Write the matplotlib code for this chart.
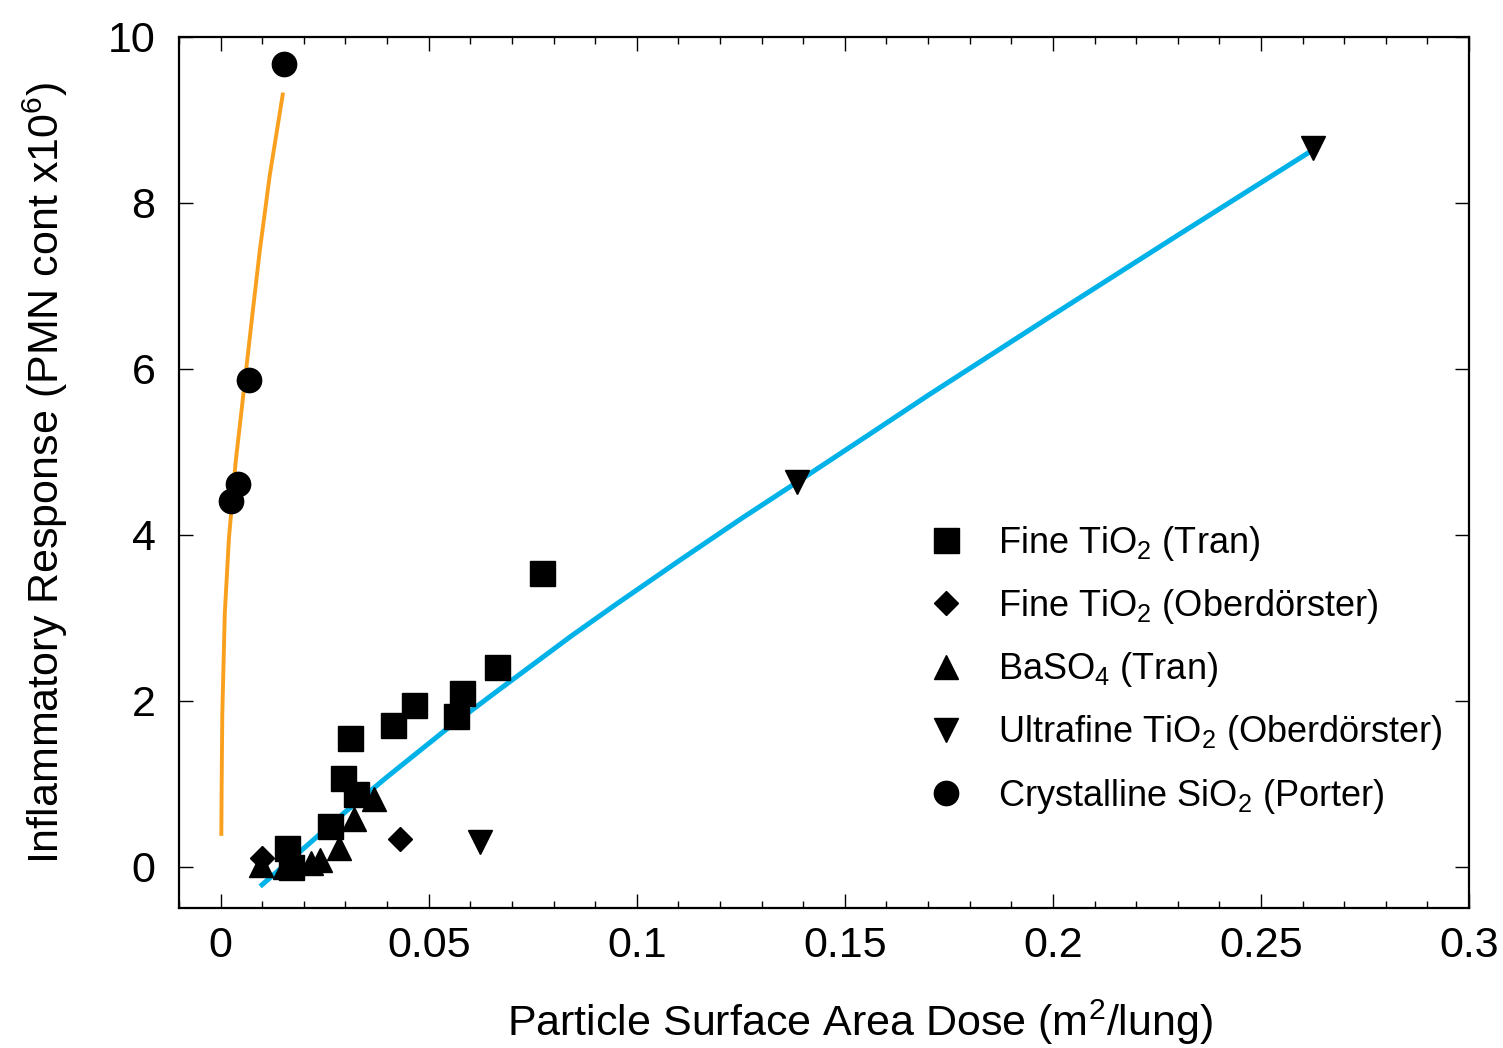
import matplotlib
matplotlib.use("Agg")
import matplotlib.pyplot as plt
from matplotlib.lines import Line2D
from matplotlib.ticker import MultipleLocator

plt.rcParams['font.family'] = ['Liberation Sans', 'DejaVu Sans']
plt.rcParams['mathtext.default'] = 'regular'

# Fine TiO2 (Tran) - squares
fine_tran_x = [0.0773, 0.0664, 0.0580, 0.0565, 0.0464, 0.0414, 0.0310, 0.0294, 0.0325, 0.0264, 0.0160, 0.0168]
fine_tran_y = [3.54, 2.41, 2.09, 1.82, 1.95, 1.71, 1.55, 1.07, 0.88, 0.49, 0.22, 0.00]

# Fine TiO2 (Oberdörster) - diamonds
fine_ober_x = [0.0431, 0.0100]
fine_ober_y = [0.33, 0.10]

# BaSO4 (Tran) - triangles
baso4_x = [0.0369, 0.0321, 0.0284, 0.0238, 0.0218, 0.0155, 0.0098]
baso4_y = [0.81, 0.57, 0.22, 0.08, 0.04, 0.00, 0.02]

# Ultrafine TiO2 (Oberdörster) - down triangles
ultra_x = [0.0623, 0.1384, 0.2624]
ultra_y = [0.29, 4.64, 8.66]

# Crystalline SiO2 (Porter) - circles
sio2_x = [0.0153, 0.0069, 0.0042, 0.0026]
sio2_y = [9.67, 5.87, 4.61, 4.41]

# fit curves
orange_x = [0.00017, 0.00025, 0.0004, 0.001, 0.002, 0.0036, 0.0058, 0.0076, 0.0094, 0.0118, 0.0134, 0.015]
orange_y = [0.37, 1.00, 1.83, 3.05, 3.96, 4.87, 5.84, 6.64, 7.42, 8.33, 8.83, 9.33]
blue_x = [0.0095, 0.02, 0.03, 0.04, 0.0539, 0.065, 0.0843, 0.095, 0.11, 0.125, 0.1384,
          0.155, 0.17, 0.20, 0.23, 0.2622]
blue_y = [-0.24, 0.22, 0.66, 1.08, 1.64, 2.06, 2.78, 3.16, 3.68, 4.19, 4.63,
          5.18, 5.68, 6.65, 7.61, 8.63]

labels = ["Fine TiO$_2$ (Tran)", "Fine TiO$_2$ (Oberdörster)", "BaSO$_4$ (Tran)",
          "Ultrafine TiO$_2$ (Oberdörster)", "Crystalline SiO$_2$ (Porter)"]

fig = plt.figure(figsize=(15.03, 10.48), dpi=100)
ax = fig.add_axes([0.1191, 0.1336, 0.9774 - 0.1191, 0.9647 - 0.1336])

ax.plot(orange_x, orange_y, color='#F9A01E', lw=2.8, zorder=2, solid_capstyle='butt')
ax.plot(blue_x, blue_y, color='#00B2E8', lw=3.6, zorder=2, solid_capstyle='butt')

ax.plot(fine_tran_x, fine_tran_y, 's', color='black', ms=18, zorder=3)
ax.plot(fine_ober_x, fine_ober_y, 'D', color='black', ms=12, zorder=3)
ax.plot(baso4_x, baso4_y, '^', color='black', ms=17, zorder=3)
ax.plot(ultra_x, ultra_y, 'v', color='black', ms=17, zorder=3)
ax.plot(sio2_x, sio2_y, 'o', color='black', ms=17.5, zorder=3)

ax.set_xlim(-0.01, 0.3)
ax.set_ylim(-0.5, 10)

ax.set_xticks([0, 0.05, 0.1, 0.15, 0.2, 0.25, 0.3])
ax.set_xticklabels(["0", "0.05", "0.1", "0.15", "0.2", "0.25", "0.3"])
ax.xaxis.set_minor_locator(MultipleLocator(0.01))
ax.set_yticks([0, 2, 4, 6, 8, 10])

ax.tick_params(axis='both', which='major', direction='in', length=10, width=1,
               top=True, right=True, labelsize=31)
ax.tick_params(axis='x', which='minor', direction='in', length=5, width=1, top=True)
ax.tick_params(axis='x', which='major', pad=13)
ax.tick_params(axis='y', which='major', pad=17)
for s in ax.spines.values():
    s.set_linewidth(1.6)

ax.set_xlabel("Particle Surface Area Dose (m$^2$/lung)", fontsize=31)
ax.xaxis.set_label_coords(0.528, -0.103)
ax.set_ylabel("Inflammatory Response (PMN cont x10$^6$)", fontsize=31, labelpad=27)

handles = [Line2D([], [], marker=m, color='black', ls='none', ms=s)
           for m, s in [('s', 18), ('D', 12), ('^', 17), ('v', 17), ('o', 17.5)]]
ax.legend(handles, labels, loc='upper left', bbox_to_anchor=(0.5806, 0.441), frameon=False,
          fontsize=26, handlelength=1.0, handletextpad=0.94, labelspacing=0.67,
          borderpad=0, borderaxespad=0)

fig.savefig("out.png", dpi=100)
